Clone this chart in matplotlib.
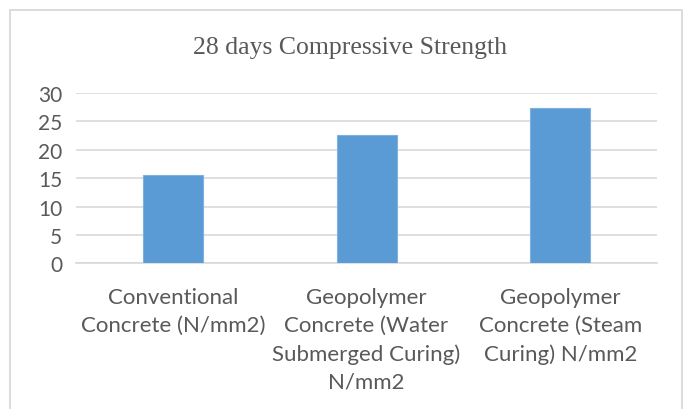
import matplotlib.pyplot as plt
from matplotlib.patches import Rectangle

categories = ['Conventional\nConcrete (N/mm2)',
              'Geopolymer\nConcrete (Water\nSubmerged Curing)\nN/mm2',
              'Geopolymer\nConcrete (Steam\nCuring) N/mm2']
strength = [15.6, 22.6, 27.3]
yticks = [0, 5, 10, 15, 20, 25, 30]

text_color = '#595959'
grid_color = '#D9D9D9'

fig = plt.figure(figsize=(6.88, 4.10), dpi=100)
ax = fig.add_axes([0.1105, 0.355, 0.8445, 0.4157])

# chart border
fig.patches.append(Rectangle((10 / 688, -0.05), 672 / 688, 1 - 11 / 410 + 0.05,
                             transform=fig.transFigure, fill=False,
                             edgecolor=grid_color, linewidth=1.3))

x = list(range(len(categories)))
ax.bar(x, strength, width=0.31, color='#5B9BD5', edgecolor='#7EB1E0', linewidth=0.8, zorder=3)

ax.set_xlim(-0.5, 2.5)
ax.set_ylim(0, 30)
ax.set_yticks(yticks)
ax.set_xticks(x)
ax.set_xticklabels(categories, family='Lato', fontsize=16, color=text_color,
                   linespacing=1.5)
ax.set_yticklabels([str(v) for v in yticks], family='Lato', fontsize=15, color=text_color)
ax.tick_params(axis='x', length=0, pad=17)
ax.tick_params(axis='y', length=0, pad=10)
ax.grid(axis='y', color=grid_color, linewidth=1.2, zorder=0)
for s in ['left', 'right', 'top']:
    ax.spines[s].set_visible(False)
ax.spines['bottom'].set_color(grid_color)
ax.spines['bottom'].set_linewidth(1.2)

fig.text(0.509, 0.883, '28 days Compressive Strength', family='Liberation Serif',
         fontsize=18.5, color=text_color, ha='center', va='center')

plt.savefig('out.png', dpi=100)
